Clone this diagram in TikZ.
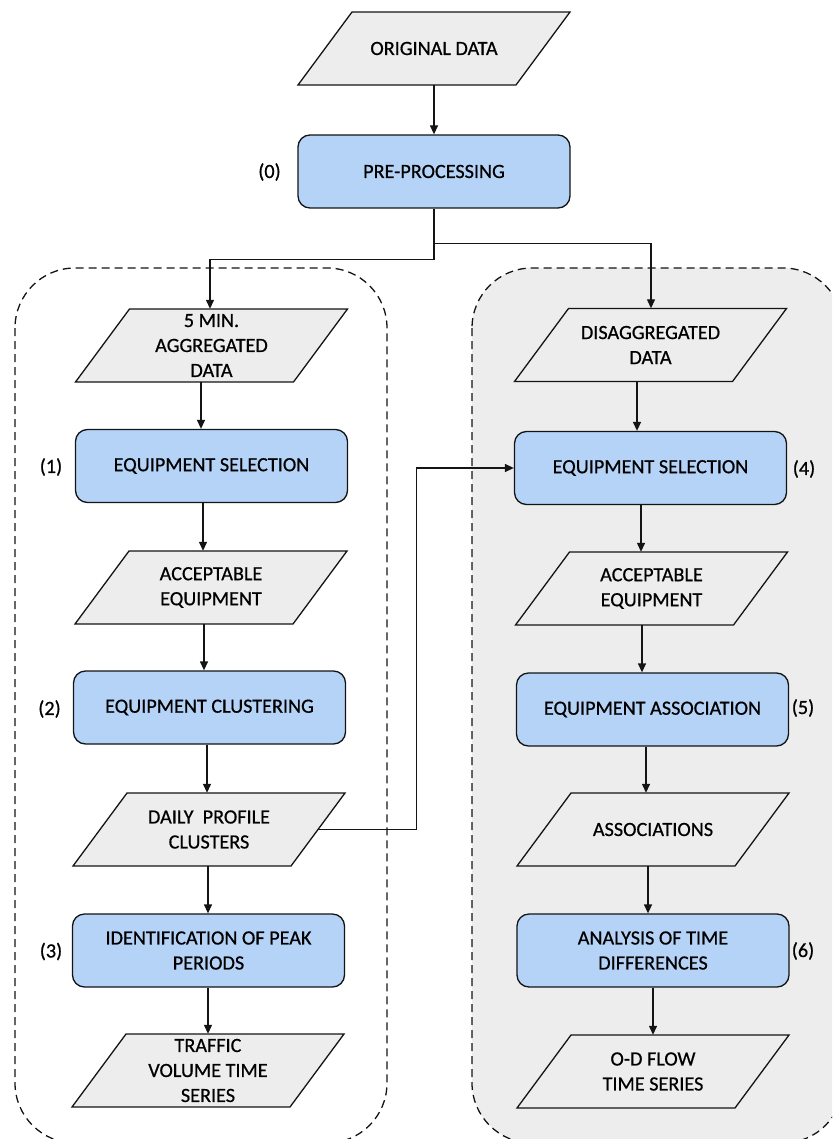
\documentclass[tikz,border=0pt]{standalone}
\usepackage{fontspec}
\setmainfont{Carlito}[UprightFeatures={FakeBold=0.6}]
\usetikzlibrary{arrows.meta,calc}
\definecolor{procblue}{HTML}{B5D3F7}
\definecolor{datagray}{HTML}{EDEDED}
\definecolor{contgray}{HTML}{EDEDED}
\definecolor{edgec}{HTML}{141414}
\newcommand\txtfont{\fontsize{20.2}{25}\selectfont}
\tikzset{
 proc/.style={draw=edgec, line width=1.3pt, fill=procblue, rounded corners=12pt,
   minimum width=272pt, minimum height=73pt, inner sep=0pt, align=center, font=\txtfont},
 datanode/.style={minimum width=218pt, minimum height=73pt, inner sep=0pt, align=center, font=\txtfont},
 paral/.style={draw=edgec, line width=1.3pt, fill=datagray, line join=miter},
 arr/.style={draw=edgec, line width=1.3pt, -{Triangle[length=9pt,width=8pt]}},
 cont/.style={draw=edgec, line width=1.3pt, dash pattern=on 8pt off 5pt, rounded corners=60pt},
 lbl/.style={font=\txtfont, inner sep=0pt}
}
\newcommand\datanode[3]{%
  \filldraw[paral] (#2) ++(-82,-36.5) -- ++(218,0) -- ++(-54,73) -- ++(-218,0) -- cycle;
  \node[datanode] (#1) at (#2) {#3};}
\newcommand\vconn[3]{%
  \draw[arr] ([xshift=#3pt]#1.south) -- ([xshift=#3pt]#1.south |- #2.north);}
\begin{document}
\begin{tikzpicture}[x=1pt,y=-1pt]
\useasboundingbox (0,0) rectangle (832,1139);
\begin{scope}
\clip (0,0) rectangle (832,1139);
% containers
\draw[cont] (15,268) rectangle (387,1143);
\draw[cont, fill=contgray] (472,268) rectangle (843,1143);
% top
\datanode{od}{434,48.5}{ORIGINAL DATA}
\node[proc] (pp) at (434,171.5) {PRE-PROCESSING};
% left column
\datanode{p5}{211.5,345.5}{5 MIN.\\AGGREGATED\\DATA}
\node[proc] (es1) at (211.5,466) {EQUIPMENT SELECTION};
\datanode{acc1}{211,587.5}{ACCEPTABLE\\EQUIPMENT}
\node[proc] (ec) at (209.5,707.5) {EQUIPMENT CLUSTERING};
\datanode{dpc}{209,829.5}{DAILY\ \ PROFILE\\CLUSTERS}
\node[proc] (pk) at (208.5,950.5) {IDENTIFICATION OF PEAK\\PERIODS};
\datanode{tv}{208,1070.5}{TRAFFIC\\VOLUME TIME\\SERIES}
% right column
\datanode{dis}{650.5,345}{DISAGGREGATED\\DATA}
\node[proc] (es4) at (650.5,468) {EQUIPMENT SELECTION};
\datanode{acc2}{651.5,588.5}{ACCEPTABLE\\EQUIPMENT}
\node[proc] (ea) at (652.5,709.5) {EQUIPMENT ASSOCIATION};
\datanode{as}{653,829.5}{ASSOCIATIONS}
\node[proc] (an) at (653,950.5) {ANALYSIS OF TIME\\DIFFERENCES};
\datanode{odf}{653,1071.5}{O-D FLOW\\TIME SERIES}
% step labels
\node[lbl] (l0) at (269.5,172) {(0)};
\node[lbl] (l1) at (51,467) {(1)};
\node[lbl] (l2) at (49.5,709) {(2)};
\node[lbl] (l3) at (51,951.5) {(3)};
\node[lbl] (l4) at (804,469) {(4)};
\node[lbl] (l5) at (803,708) {(5)};
\node[lbl] (l6) at (803,951) {(6)};
% connectors
\draw[arr] (od.south) -- (pp.north);
\draw[arr] (pp.south) -- ++(0,51) -| ([xshift=-1.5pt]p5.north);
\draw[arr] ([yshift=-35pt]pp.south) -| ([xshift=0.5pt]dis.north);
\vconn{p5}{es1}{-10.5}
\vconn{es1}{acc1}{-8.5}
\vconn{acc1}{ec}{-7}
\vconn{ec}{dpc}{-2.5}
\vconn{dpc}{pk}{-1}
\vconn{pk}{tv}{-0.5}
\vconn{dis}{es4}{-13.5}
\vconn{es4}{acc2}{-9.5}
\vconn{acc2}{ea}{-9.5}
\vconn{ea}{as}{-6.5}
\vconn{as}{an}{-5}
\vconn{an}{odf}{0}
\draw[arr] (dpc.east) -- ++(98,0) |- (es4.west);
\end{scope}
\end{tikzpicture}
\end{document}
